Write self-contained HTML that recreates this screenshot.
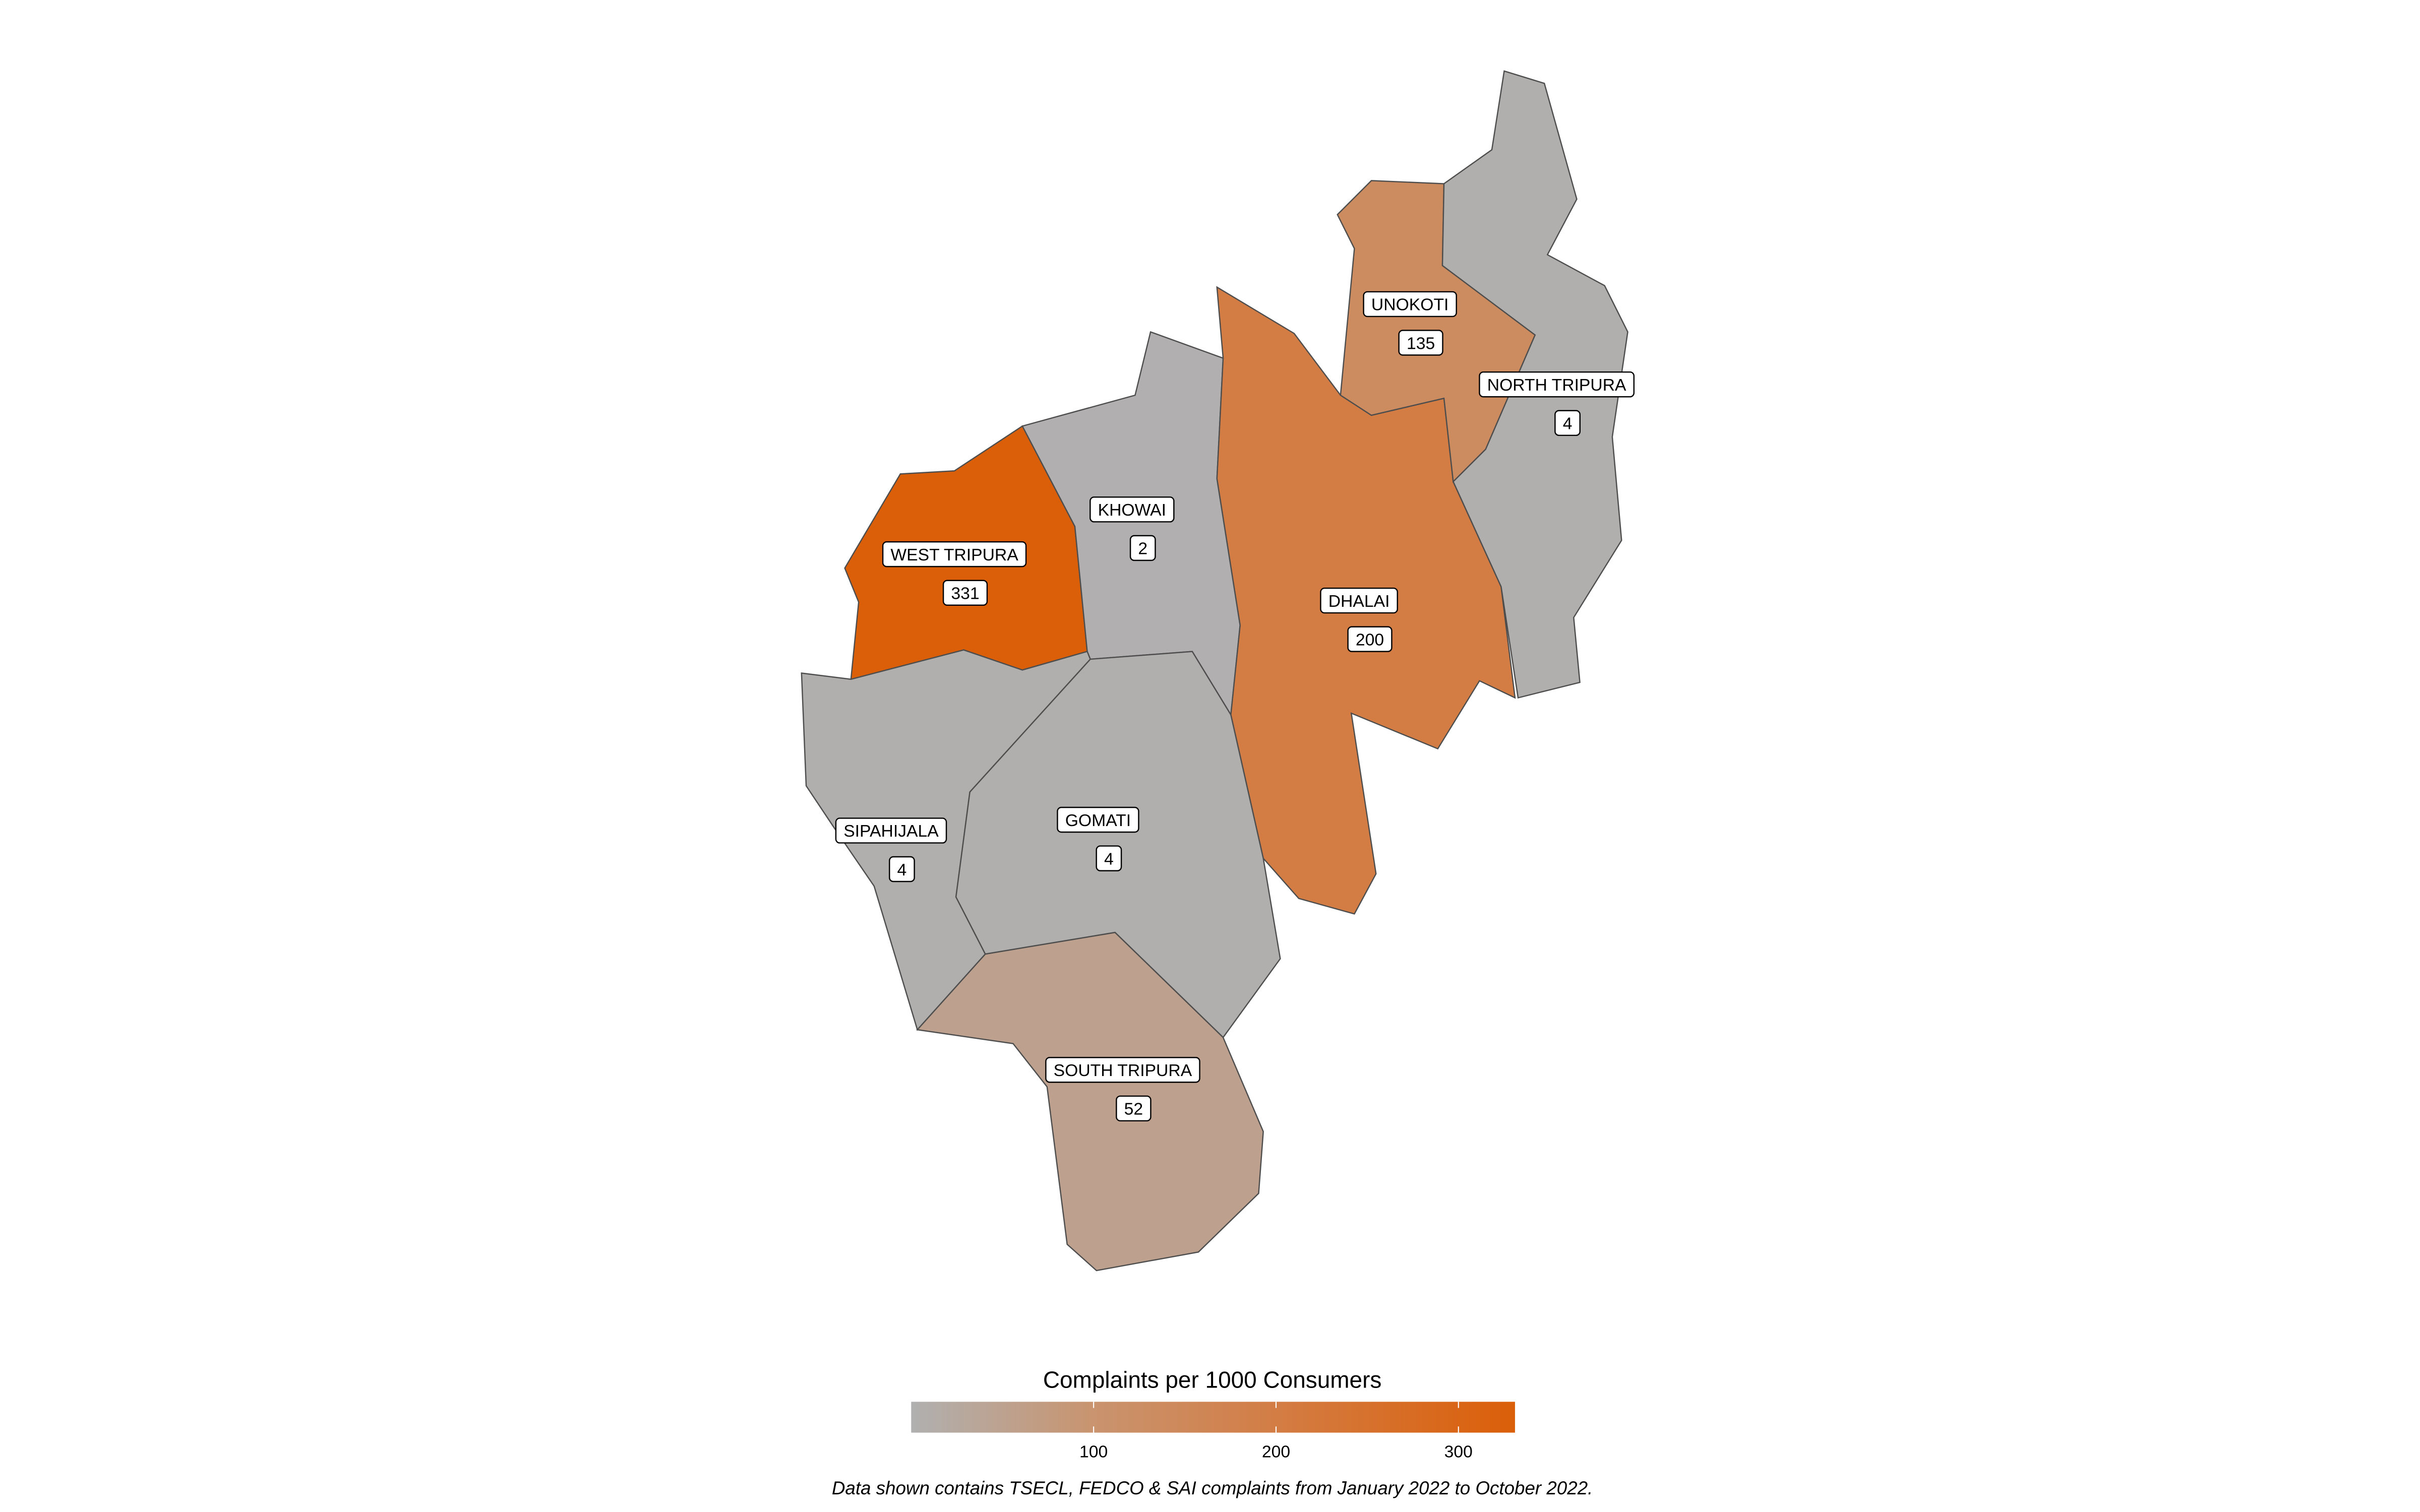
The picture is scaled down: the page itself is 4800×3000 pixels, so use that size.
<!DOCTYPE html>
<html><head><meta charset="utf-8"><style>
html,body{margin:0;padding:0;background:#fff;}
svg{display:block;}
text{font-family:"Liberation Sans",Arial,sans-serif;}
</style></head><body>
<svg id="chart" width="4800" height="3000" viewBox="0 0 1567 979.4" xmlns="http://www.w3.org/2000/svg">
<defs>
<linearGradient id="grad" x1="0" x2="1" y1="0" y2="0">
<stop offset="0" stop-color="#b0b0b0"/>
<stop offset="0.30" stop-color="#c9946f"/>
<stop offset="0.60" stop-color="#d37d45"/>
<stop offset="1" stop-color="#db5f09"/>
</linearGradient>
</defs>
<g id="regions"></g>
<g id="labels"></g>
<g id="legend">
<text x="785" y="899" font-size="15" text-anchor="middle">Complaints per 1000 Consumers</text>
<rect x="590" y="908" width="391" height="20" fill="url(#grad)"/>
<g id="legendTicks"></g>
</g>
<text x="785" y="968" font-size="12" font-style="italic" text-anchor="middle">Data shown contains TSECL, FEDCO &amp; SAI complaints from January 2022 to October 2022.</text>
</svg>
<script>
const districts = ["WEST TRIPURA","KHOWAI","DHALAI","UNOKOTI","NORTH TRIPURA","SIPAHIJALA","GOMATI","SOUTH TRIPURA"];
const values = [331, 2, 200, 135, 4, 4, 4, 52];
const legendTicks = [100, 200, 300];
const legendMin = 0, legendMax = 331;

const shapes = [
 [[583,307],[618,305],[662,276],[696,341],[704,422],[662,434],[624,421],[551,440],[556,390],[547,368]],
 [[662,276],[735,256],[745,215],[792,232],[788,310],[803,405],[797,463],[772,422],[706,427],[704,422],[696,341]],
 [[788,186],[838,216],[868,256],[888,269],[935,258],[941,312],[972,380],[981,452],[958,441],[931,485],[875,462],[891,566],[877,592],[841,582],[818,556],[797,463],[803,405],[788,310],[792,232]],
 [[888,117],[935,119],[934,172],[994,217],[962,291],[941,312],[935,258],[888,269],[868,256],[877,161],[866,139]],
 [[974,46],[1000,54],[1021,129],[1002,165],[1039,185],[1054,215],[1044,283],[1050,350],[1019,400],[1023,442],[983,452],[972,380],[941,312],[962,291],[994,217],[934,172],[935,119],[966,97]],
 [[519,436],[551,440],[624,421],[662,434],[704,422],[706,427],[628,513],[619,581],[638,618],[594,667],[566,574],[540,536],[522,509]],
 [[706,427],[772,422],[797,463],[818,556],[829,621],[792,672],[722,604],[638,618],[619,581],[628,513]],
 [[638,618],[722,604],[792,672],[818,733],[815,773],[776,811],[710,823],[691,806],[678,704],[656,676],[594,667]]
];
const labelPos = [[618,359],[733,330],[880,389],[913,197],[1008,249],[577,538],[711,531],[727,693]];

const stops = [[0,[176,176,176]],[0.30,[201,148,111]],[0.60,[211,125,69]],[1,[219,95,9]]];
function colorScale(v){
  const t = Math.max(0, Math.min(1, (v-legendMin)/(legendMax-legendMin)));
  for(let i=1;i<stops.length;i++){
    if(t<=stops[i][0]){
      const a=stops[i-1], b=stops[i], f=(t-a[0])/(b[0]-a[0]);
      const c=a[1].map((x,k)=>Math.round(x+(b[1][k]-x)*f));
      return `rgb(${c[0]},${c[1]},${c[2]})`;
    }
  }
  return 'rgb(219,95,9)';
}
function legendX(v){ return 590 + (v-legendMin)/(legendMax-legendMin)*391; }

const NS="http://www.w3.org/2000/svg";
const gR=document.getElementById('regions'), gL=document.getElementById('labels');
districts.forEach((d,i)=>{
  const p=document.createElementNS(NS,'polygon');
  p.setAttribute('points', shapes[i].map(q=>q.join(',')).join(' '));
  p.setAttribute('fill', colorScale(values[i]));
  p.setAttribute('stroke', '#4d4d4d');
  p.setAttribute('stroke-width', '0.8');
  
  
  gR.appendChild(p);
});
function addLabel(txt, cx, cy, name){
  const g=document.createElementNS(NS,'g');
  
  
  const t=document.createElementNS(NS,'text');
  t.setAttribute('x', cx); t.setAttribute('y', cy+4);
  t.setAttribute('font-size','11'); t.setAttribute('text-anchor','middle');
  t.textContent=txt;
  const r=document.createElementNS(NS,'rect');
  g.appendChild(r); g.appendChild(t); gL.appendChild(g);
  const w=t.getComputedTextLength()+10;
  r.setAttribute('x', cx-w/2); r.setAttribute('y', cy-8);
  r.setAttribute('width', w); r.setAttribute('height', 16);
  r.setAttribute('rx', 2.5); r.setAttribute('fill','#fff');
  r.setAttribute('stroke','#000'); r.setAttribute('stroke-width','0.8');
}
districts.forEach((d,i)=>{
  const [x,y]=labelPos[i];
  addLabel(d, x, y, 'label-' + d.toLowerCase().replace(/ /g,'-'));
  addLabel(String(values[i]), x+7, y+25, 'value-' + d.toLowerCase().replace(/ /g,'-'));
});
const gT=document.getElementById('legendTicks');
legendTicks.forEach(v=>{
  const x=legendX(v);
  [[908,912],[924,928]].forEach(([a,b])=>{
    const l=document.createElementNS(NS,'line');
    l.setAttribute('x1',x); l.setAttribute('x2',x); l.setAttribute('y1',a); l.setAttribute('y2',b);
    l.setAttribute('stroke','#fff'); l.setAttribute('stroke-width','0.7');
    
    
    gT.appendChild(l);
  });
  const t=document.createElementNS(NS,'text');
  t.setAttribute('x',x); t.setAttribute('y',944);
  t.setAttribute('font-size','11'); t.setAttribute('text-anchor','middle');
  t.textContent=v;
  
  
  gT.appendChild(t);
});
</script>
</body></html>
